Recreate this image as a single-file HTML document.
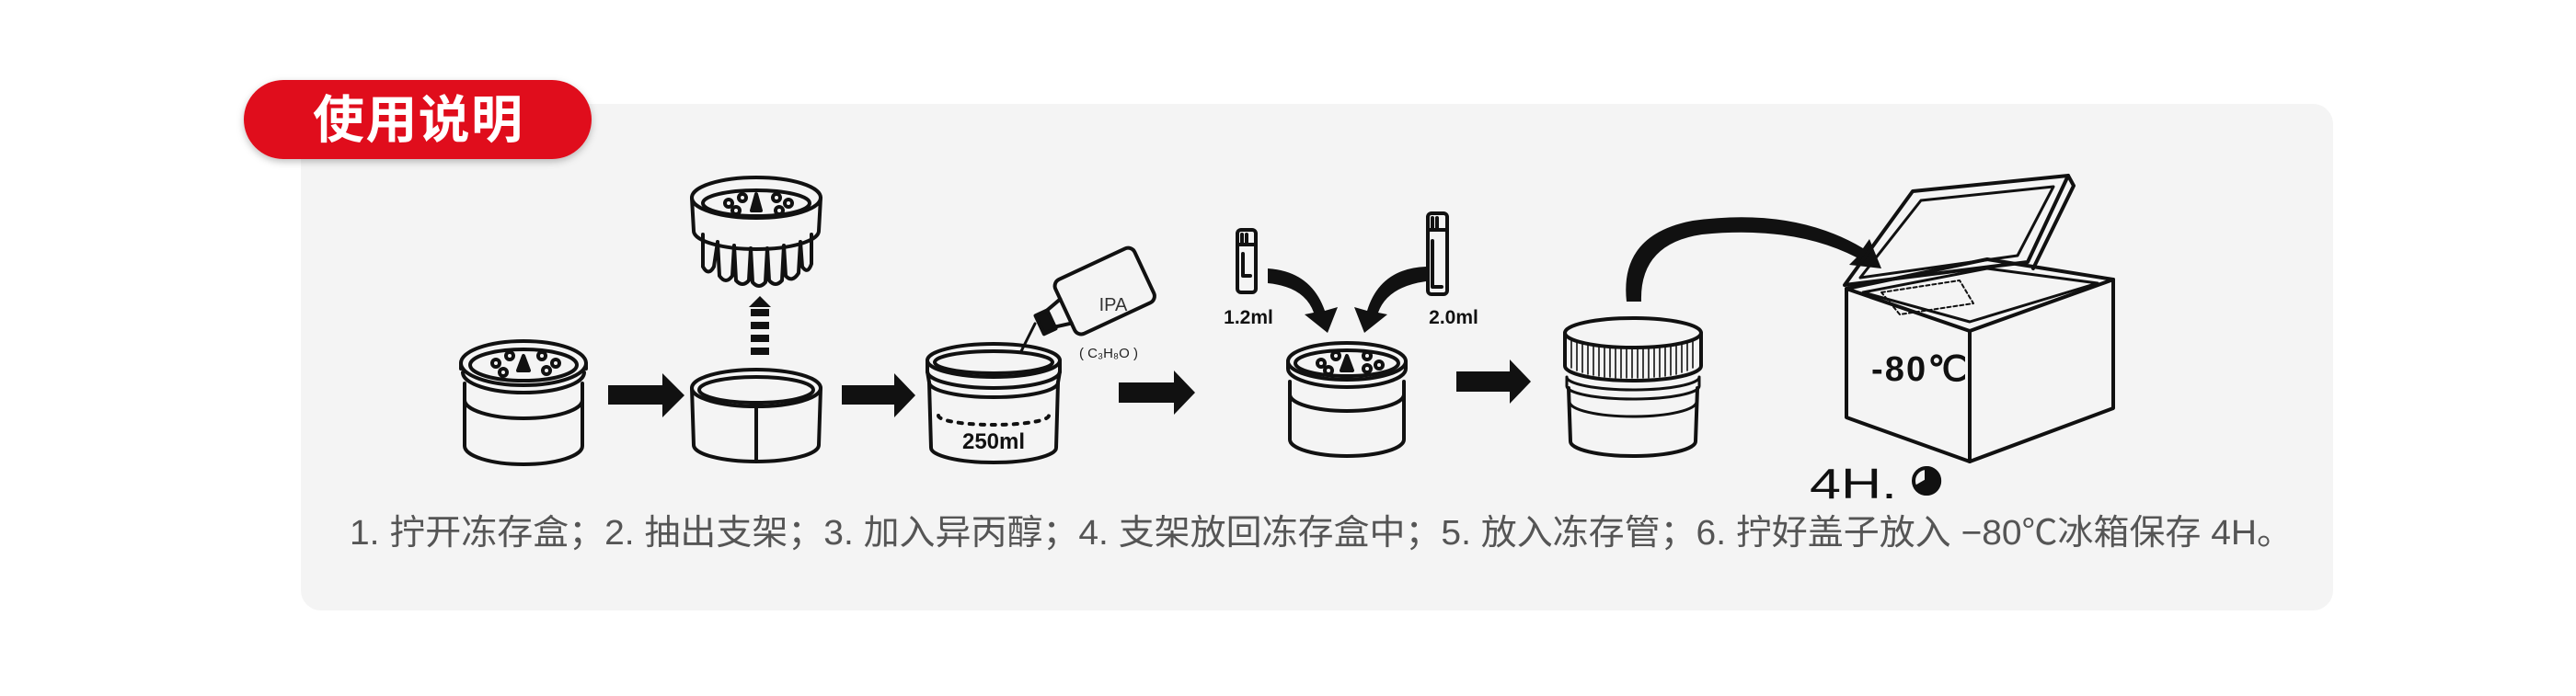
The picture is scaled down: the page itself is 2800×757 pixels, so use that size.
<!DOCTYPE html>
<html><head><meta charset="utf-8"><style>
html,body{margin:0;padding:0;background:#fff;}
svg{display:block;}
</style></head><body>
<svg width="2800" height="757" viewBox="0 0 2800 757" xmlns="http://www.w3.org/2000/svg">
<defs>
<filter id="sh" x="-10%" y="-10%" width="120%" height="140%"><feDropShadow dx="0" dy="3" stdDeviation="4" flood-color="#000" flood-opacity="0.25"/></filter>
</defs>
<rect x="327" y="113" width="2209" height="551" rx="22" fill="#f4f4f4"/>
<rect x="265" y="87" width="378" height="86" rx="43" fill="#e0111b" filter="url(#sh)"/>
<text x="454" y="150" text-anchor="middle" font-family="'Liberation Sans','Noto Sans CJK SC',sans-serif" font-size="56" font-weight="bold" fill="#fff" textLength="228">使用说明</text>

<g fill="none" stroke="#111" stroke-width="4" stroke-linecap="round" stroke-linejoin="round">
<g transform="translate(569,395)">
<ellipse cx="0" cy="0" rx="68" ry="24"/><ellipse cx="0" cy="2" rx="58" ry="17"/>
<path d="M-68,0 L-68,6 M68,0 L68,6 M-66,10 A66,22 0 0 0 66,10"/>
<path d="M-64,22 L-64,90 A64,20 0 0 0 64,90 L64,22"/>
<path d="M-64,40 A64,20 0 0 0 64,40"/>
<circle cx="-30" cy="0" r="4"/><circle cx="-15" cy="-8" r="4"/><circle cx="20" cy="-8" r="4"/><circle cx="35" cy="0" r="4"/><circle cx="-22" cy="10" r="4"/><circle cx="25" cy="8" r="4"/>
<path d="M-6,8 L0,-8 L6,8 Z" fill="#111"/>
</g>
<g transform="translate(822,422)">
<ellipse cx="0" cy="0" rx="70" ry="20"/><ellipse cx="0" cy="2" rx="62" ry="14"/>
<path d="M-70,0 L-68,62 A68,18 0 0 0 68,62 L70,0"/>
<path d="M0,18 L0,80"/>
</g>
<g transform="translate(822,215)">
<ellipse cx="0" cy="0" rx="70" ry="22"/><ellipse cx="0" cy="6" rx="58" ry="14"/>
<path d="M-70,0 L-68,36 A68,20 0 0 0 68,36 L70,0"/>
<path d="M-58,40 L-58,75 Q-52,86 -46,75 L-42,48 M-42,48 L-40,85 Q-33,95 -26,85 L-24,52 M-24,52 L-22,90 Q-15,98 -8,90 L-6,55 M-6,55 L-4,92 Q3,100 10,92 L12,55 M12,55 L14,90 Q21,98 28,90 L30,52 M30,52 L32,85 Q39,93 46,82 L48,48 M48,48 L50,75 Q56,84 60,72 L60,40"/>
<circle cx="-30" cy="6" r="4"/><circle cx="-15" cy="0" r="4"/><circle cx="22" cy="0" r="4"/><circle cx="35" cy="6" r="4"/><circle cx="-22" cy="14" r="4"/><circle cx="25" cy="14" r="4"/>
<path d="M-5,14 L0,-4 L5,14 Z" fill="#111"/>
</g>
<g transform="translate(1080,392)">
<ellipse cx="0" cy="0" rx="72" ry="18"/><ellipse cx="0" cy="2" rx="64" ry="12"/>
<path d="M-72,0 L-72,12 A72,18 0 0 0 72,12 L72,0"/>
<path d="M-72,12 L-70,24 A70,16 0 0 0 70,24 L72,12"/>
<path d="M-70,24 L-68,95 A68,16 0 0 0 68,95 L70,24"/>
<path d="M-60,60 A60,10 0 0 0 60,60" stroke-dasharray="4 8"/>
<path d="M30,-10 L45,-40" stroke-width="3"/>
</g>
<g transform="translate(1195,322) rotate(-25)">
<rect x="-40" y="-35" width="95" height="65" rx="8"/>
<path d="M-40,-15 L-58,-10 L-58,10 L-40,14"/>
<rect x="-72" y="-10" width="14" height="22" fill="#111"/>
</g>
</g>
<text x="1210" y="338" font-family="'Liberation Sans',sans-serif" font-size="20" fill="#333" text-anchor="middle">IPA</text>
<text x="1205" y="389" font-family="'Liberation Sans',sans-serif" font-size="15" fill="#222" text-anchor="middle">( C₃H₈O )</text>
<text x="1080" y="488" font-family="'Liberation Sans',sans-serif" font-size="24" font-weight="bold" fill="#111" text-anchor="middle">250ml</text>

<g fill="#111">
<path d="M661,419 L720,419 L720,406 L744,430 L720,454 L720,440 L661,440 Z"/>
<path d="M915,419 L972,419 L972,406 L995,430 L972,454 L972,440 L915,440 Z"/>
<path d="M1216,416 L1276,416 L1276,403 L1299,427 L1276,451 L1276,438 L1216,438 Z"/>
<path d="M1583,404 L1641,404 L1641,391 L1664,415 L1641,439 L1641,426 L1583,426 Z"/>
<path d="M814,334 L826,322 L838,334 Z"/>
<rect x="816" y="336" width="20" height="8"/><rect x="816" y="350" width="20" height="8"/><rect x="816" y="364" width="20" height="8"/><rect x="816" y="378" width="20" height="8"/>
<path d="M1378,292 Q1425,295 1440,338 L1454,334 L1443,362 L1418,342 L1428,340 Q1418,312 1378,308 Z"/>
<path d="M1550,290 Q1500,292 1486,338 L1472,334 L1483,362 L1508,342 L1498,340 Q1508,312 1550,306 Z"/>
<path d="M1768,328 Q1760,255 1840,240 Q1950,225 2025,270 L2032,260 L2045,292 L2010,288 L2018,280 Q1950,245 1850,255 Q1782,265 1784,328 Z"/>
</g>

<g fill="none" stroke="#111" stroke-width="4" stroke-linecap="round" stroke-linejoin="round">
<rect x="1345" y="250" width="20" height="68" rx="4"/><path d="M1345,266 L1365,266 M1350,255 L1350,264 M1355,255 L1355,264 M1351,276 L1351,300 L1359,300"/>
<rect x="1552" y="232" width="21" height="88" rx="4"/><path d="M1552,250 L1573,250 M1557,237 L1557,248 M1562,237 L1562,248 M1557,262 L1557,312 L1567,312"/>
<g transform="translate(1464,393)">
<ellipse cx="0" cy="0" rx="64" ry="20"/><ellipse cx="0" cy="2" rx="56" ry="14"/>
<path d="M-64,0 L-64,8 A64,20 0 0 0 64,8 L64,0"/>
<path d="M-62,22 L-62,85 A62,18 0 0 0 62,85 L62,22"/>
<path d="M-62,36 A62,18 0 0 0 62,36"/>
<circle cx="-28" cy="2" r="4"/><circle cx="-12" cy="-6" r="4"/><circle cx="22" cy="-6" r="4"/><circle cx="35" cy="4" r="4"/><circle cx="-20" cy="10" r="4"/><circle cx="22" cy="8" r="4"/>
<path d="M-6,10 L0,-6 L6,10 Z" fill="#111"/>
</g>
<g transform="translate(1775,362)">
<ellipse cx="0" cy="0" rx="74" ry="16"/>
<path d="M-74,0 L-74,36 A74,16 0 0 0 74,36 L74,0"/>
<path d="M-70,60 L-68,118 A68,16 0 0 0 68,118 L70,60"/>
<path d="M-72,48 A72,14 0 0 0 72,48 L72,58 A72,14 0 0 1 -72,58 Z" stroke-width="3"/>
<path d="M-69,75 A69,16 0 0 0 69,75" stroke-width="3"/>
</g>
<g stroke-width="1.6">
<path d="M1708,370 L1708,400 M1714,372 L1714,403 M1720,374 L1720,405 M1726,375 L1726,407 M1732,376 L1732,408 M1738,377 L1738,409 M1744,377 L1744,410 M1750,378 L1750,410 M1756,378 L1756,411 M1762,378 L1762,411 M1768,378 L1768,411 M1774,378 L1774,411 M1780,378 L1780,411 M1786,378 L1786,411 M1792,378 L1792,411 M1798,378 L1798,410 M1804,377 L1804,410 M1810,377 L1810,409 M1816,376 L1816,408 M1822,375 L1822,407 M1828,374 L1828,405 M1834,372 L1834,403 M1840,370 L1840,400"/>
</g>
<path d="M2007,314 L2007,454 L2141,502 L2297,444 L2297,304"/>
<path d="M2141,502 L2141,360"/>
<path d="M2007,314 L2141,360 L2297,304"/>
<path d="M2007,314 L2160,282 L2297,304"/>
<path d="M2025,318 L2160,292 L2280,308 L2141,350 Z" stroke-width="3"/>
<path d="M2005,310 L2079,208 L2248,191 L2204,285 Z"/>
<path d="M2022,302 L2088,218 L2232,203 L2193,278 Z" stroke-width="3"/>
<path d="M2248,191 L2254,202 L2210,292"/>
<path d="M2045,318 L2130,305 L2145,330 L2065,342 Z" stroke-width="2" stroke-dasharray="4 3"/>
<circle cx="2094" cy="523" r="14"/>
<path d="M2094,523 L2094,509 A14,14 0 1 1 2082,530 Z" fill="#111"/>
</g>
<text x="1357" y="352" font-family="'Liberation Sans',sans-serif" font-size="21" font-weight="bold" fill="#111" text-anchor="middle">1.2ml</text>
<text x="1580" y="352" font-family="'Liberation Sans',sans-serif" font-size="21" font-weight="bold" fill="#111" text-anchor="middle">2.0ml</text>
<text x="2034" y="414" font-family="'Liberation Sans',sans-serif" font-size="38" font-weight="bold" fill="#111" textLength="104">-80℃</text>
<text x="1967" y="542" font-family="'Liberation Sans',sans-serif" font-size="46" fill="#111" textLength="95" lengthAdjust="spacingAndGlyphs">4H.</text>

<text x="380" y="592" font-family="'Liberation Sans','Noto Sans CJK SC',sans-serif" font-size="38" fill="#555" textLength="2112" lengthAdjust="spacingAndGlyphs">1. 拧开冻存盒；2. 抽出支架；3. 加入异丙醇；4. 支架放回冻存盒中；5. 放入冻存管；6. 拧好盖子放入 −80℃冰箱保存 4H。</text>
</svg>
</body></html>
